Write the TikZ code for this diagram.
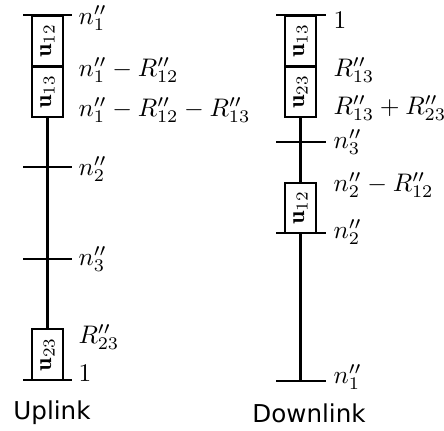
\documentclass[tikz,border=0pt]{standalone}
\usepackage{fontspec}
\newfontfamily\dejavu{DejaVu Sans}
\begin{document}
\begin{tikzpicture}[x=0.5pt,y=-0.5pt,
  axisline/.style={line width=1.4pt},
  ubox/.style={draw,line width=1.2pt,minimum width=15.5pt,minimum height=25.5pt,inner sep=0pt,outer sep=0pt},
  boxtext/.style={inner sep=0pt,scale=1.2,transform shape},
  lab/.style={anchor=west,inner sep=0pt,scale=1.27,transform shape},
  captext/.style={font=\dejavu\fontsize{12.3}{14}\selectfont}]
\useasboundingbox (0,0) rectangle (444,431);
% ---------- Uplink ----------
\node[ubox] (ua) at (47.5,41) {};
\node[boxtext,rotate=90] (ta) at (ua) {$\mathbf{u}_{12}$};
\node[ubox,minimum height=25pt] (ub) at (47.5,92) {};
\node[boxtext,rotate=90] (tb) at (ub) {$\mathbf{u}_{13}$};
\node[ubox] (uc) at (47.5,354.5) {};
\node[boxtext,rotate=90] (tc) at (uc) {$\mathbf{u}_{23}$};
\coordinate (t1l) at (23,15); \coordinate (t1r) at (72,15);
\coordinate (t2l) at (23,167); \coordinate (t2r) at (72,167);
\coordinate (t3l) at (23,259); \coordinate (t3r) at (72,259);
\coordinate (t4l) at (23,380); \coordinate (t4r) at (72,380);
\draw[axisline] (t1l) -- (t1r);
\draw[axisline] (t2l) -- (t2r);
\draw[axisline] (t3l) -- (t3r);
\draw[axisline] (t4l) -- (t4r);
\draw[axisline] (ub.south) -- (uc.north);
\node[lab] (l1) at (78,18) {$n_1''$};
\node[lab] (l2) at (78,70) {$n_1''-R_{12}''$};
\node[lab] (l3) at (78,110) {$n_1''-R_{12}''-R_{13}''$};
\node[lab] (l4) at (78,169) {$n_2''$};
\node[lab] (l5) at (78,259) {$n_3''$};
\node[lab] (l6) at (78,337) {$R_{23}''$};
\node[lab] (l7) at (78,373) {$1$};
\node[captext] (up) at (52,413) {Uplink};
% ---------- Downlink ----------
\node[ubox] (da) at (300.5,41) {};
\node[boxtext,rotate=90] (tda) at (da) {$\mathbf{u}_{13}$};
\node[ubox,minimum height=25pt] (db) at (300.5,92) {};
\node[boxtext,rotate=90] (tdb) at (db) {$\mathbf{u}_{23}$};
\node[ubox,minimum height=25pt] (dc) at (300.5,208) {};
\node[boxtext,rotate=90] (tdc) at (dc) {$\mathbf{u}_{12}$};
\coordinate (s1l) at (276,15); \coordinate (s1r) at (326,15);
\coordinate (s2l) at (276,142); \coordinate (s2r) at (326,142);
\coordinate (s3l) at (276,233); \coordinate (s3r) at (326,233);
\coordinate (s4l) at (276,381); \coordinate (s4r) at (326,381);
\coordinate (s4m) at (300.5,381);
\draw[axisline] (s1l) -- (s1r);
\draw[axisline] (s2l) -- (s2r);
\draw[axisline] (s3l) -- (s3r);
\draw[axisline] (s4l) -- (s4r);
\draw[axisline] (db.south) -- (dc.north);
\draw[axisline] (dc.south) -- (s4m);
\node[lab] (m1) at (333,20) {$1$};
\node[lab] (m2) at (333,70) {$R_{13}''$};
\node[lab] (m3) at (333,108) {$R_{13}''+R_{23}''$};
\node[lab] (m4) at (333,142) {$n_3''$};
\node[lab] (m5) at (333,185) {$n_2''-R_{12}''$};
\node[lab] (m6) at (333,232) {$n_2''$};
\node[lab] (m7) at (333,377) {$n_1''$};
\node[captext] (dn) at (309,413) {Downlink};
\end{tikzpicture}
\end{document}
